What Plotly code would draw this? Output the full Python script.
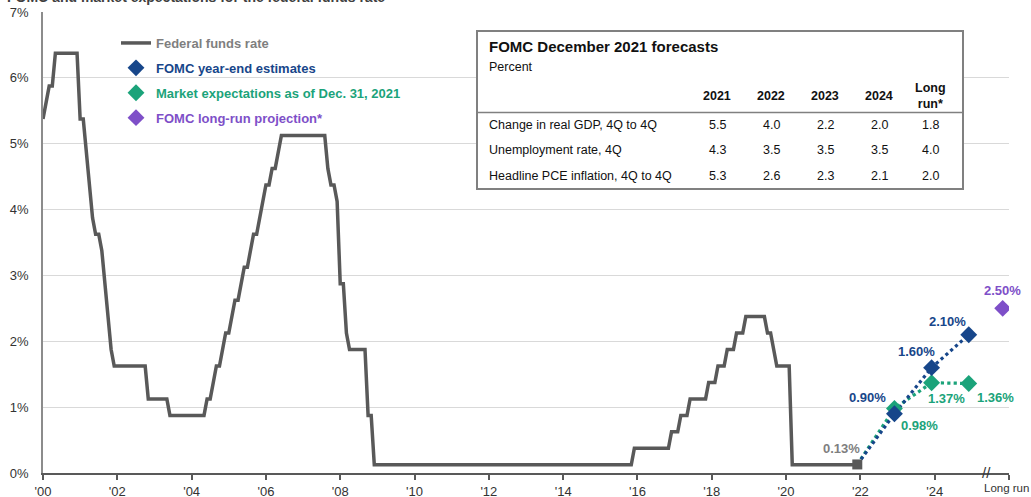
import plotly.graph_objects as go

# ---------------- data ----------------
# Federal funds rate (month-end, % ; midpoint convention) - breakpoints of the step path
fed_months = ["2000-01", "2000-02", "2000-03", "2000-04", "2000-05", "2000-12",
              "2001-01", "2001-02", "2001-03", "2001-04", "2001-05", "2001-06", "2001-07",
              "2001-08", "2001-09", "2001-10", "2001-11", "2001-12",
              "2002-10", "2002-11", "2003-05", "2003-06", "2004-05", "2004-06", "2004-07",
              "2004-08", "2004-09", "2004-10", "2004-11", "2004-12",
              "2005-01", "2005-02", "2005-03", "2005-04", "2005-05", "2005-06", "2005-07",
              "2005-08", "2005-09", "2005-10", "2005-11", "2005-12",
              "2006-01", "2006-02", "2006-03", "2006-04", "2006-05", "2006-06",
              "2007-08", "2007-09", "2007-10", "2007-11", "2007-12",
              "2008-01", "2008-02", "2008-03", "2008-04", "2008-09", "2008-10", "2008-11", "2008-12",
              "2015-11", "2015-12", "2016-11", "2016-12", "2017-02", "2017-03", "2017-05", "2017-06",
              "2017-11", "2017-12", "2018-02", "2018-03", "2018-05", "2018-06", "2018-08", "2018-09",
              "2018-11", "2018-12", "2019-06", "2019-07", "2019-08", "2019-09", "2019-10",
              "2020-02", "2020-03", "2021-12"]
fed_rates = [5.375, 5.625, 5.875, 5.875, 6.375, 6.375,
             5.375, 5.375, 4.875, 4.375, 3.875, 3.625, 3.625,
             3.375, 2.875, 2.375, 1.875, 1.625,
             1.625, 1.125, 1.125, 0.875, 0.875, 1.125, 1.125,
             1.375, 1.625, 1.625, 1.875, 2.125,
             2.125, 2.375, 2.625, 2.625, 2.875, 3.125, 3.125,
             3.375, 3.625, 3.625, 3.875, 4.125,
             4.375, 4.375, 4.625, 4.625, 4.875, 5.125,
             5.125, 4.625, 4.375, 4.375, 4.125,
             2.875, 2.875, 2.125, 1.875, 1.875, 0.875, 0.875, 0.125,
             0.125, 0.375, 0.375, 0.625, 0.625, 0.875, 0.875, 1.125,
             1.125, 1.375, 1.375, 1.625, 1.625, 1.875, 1.875, 2.125,
             2.125, 2.375, 2.375, 2.125, 2.125, 1.875, 1.625,
             1.625, 0.125, 0.125]

current_month = "2021-12"
current_rate = 0.13

forecast_months = ["2022-12", "2023-12", "2024-12"]
fomc_estimates = [0.90, 1.60, 2.10]
market_expectations = [0.98, 1.37, 1.36]
longrun_x = 2025.83
longrun_value = 2.50

x_tick_vals = [2000, 2002, 2004, 2006, 2008, 2010, 2012, 2014, 2016, 2018, 2020, 2022, 2024, 2026]
x_tick_text = ["'00", "'02", "'04", "'06", "'08", "'10", "'12", "'14", "'16", "'18", "'20", "'22", "'24", ""]
longrun_label = "Long run"
y_tick_vals = [0, 1, 2, 3, 4, 5, 6, 7]
y_tick_text = ["0%", "1%", "2%", "3%", "4%", "5%", "6%", "7%"]

table_title = "FOMC December 2021 forecasts"
table_subtitle = "Percent"
table_columns = ["2021", "2022", "2023", "2024", "Long<br>run*"]
table_rows = ["Change in real GDP, 4Q to 4Q", "Unemployment rate, 4Q", "Headline PCE inflation, 4Q to 4Q"]
table_values = [["5.5", "4.0", "2.2", "2.0", "1.8"],
                ["4.3", "3.5", "3.5", "3.5", "4.0"],
                ["5.3", "2.6", "2.3", "2.1", "2.0"]]

# ---------------- style ----------------
FONT = "Liberation Sans, Arial, sans-serif"
C_FED = "#595959"
C_BLUE = "#17468a"
C_GREEN = "#1ba37a"
C_PURPLE = "#7e4fc8"
C_GREYTXT = "#7f7f7f"


def to_dec(m):
    y, mo = m.split("-")
    return int(y) + (int(mo) - 1) / 12.0


fed_x = [to_dec(m) for m in fed_months]
cur_x = to_dec(current_month)
fc_x = [to_dec(m) for m in forecast_months]

# plot area in pixels: left 43, right 1009, top 12, bottom 473
W, H = 1031, 497
ML, MR, MT, MB = 43, 22, 12, 24
PW, PH = W - ML - MR, H - MT - MB


def px(x):
    return (x - ML) / PW


def py(y):
    return (MT + PH - y) / PH


fig = go.Figure()

# projection dotted lines
fig.add_trace(go.Scatter(x=[cur_x] + fc_x, y=[current_rate] + market_expectations, mode="lines",
                         line=dict(color=C_GREEN, width=3.2, dash="dot"), showlegend=False, hoverinfo="skip"))
fig.add_trace(go.Scatter(x=[cur_x] + fc_x, y=[current_rate] + fomc_estimates, mode="lines",
                         line=dict(color=C_BLUE, width=3.2, dash="dot"), showlegend=False, hoverinfo="skip"))

# federal funds rate
fig.add_trace(go.Scatter(x=fed_x, y=fed_rates, mode="lines", line=dict(color=C_FED, width=3.5),
                         name="<span style='color:#7f7f7f'><b>Federal funds rate</b></span>",
                         legendgroup="a", legendrank=1))
fig.add_trace(go.Scatter(x=[cur_x], y=[current_rate], mode="markers",
                         marker=dict(symbol="square", size=10, color=C_FED), showlegend=False))

fig.add_trace(go.Scatter(x=fc_x, y=market_expectations, mode="markers",
                         marker=dict(symbol="diamond", size=13, color=C_GREEN),
                         name="<span style='color:%s'><b>Market expectations as of Dec. 31, 2021</b></span>" % C_GREEN,
                         legendgroup="c", legendrank=3))
fig.add_trace(go.Scatter(x=fc_x, y=fomc_estimates, mode="markers",
                         marker=dict(symbol="diamond", size=13, color=C_BLUE),
                         name="<span style='color:%s'><b>FOMC year-end estimates</b></span>" % C_BLUE,
                         legendgroup="b", legendrank=2))
fig.add_trace(go.Scatter(x=[longrun_x], y=[longrun_value], mode="markers",
                         marker=dict(symbol="diamond", size=13, color=C_PURPLE),
                         name="<span style='color:%s'><b>FOMC long-run projection*</b></span>" % C_PURPLE,
                         legendgroup="d", legendrank=4))

annotations = []

# data labels (offsets in pixels)
lab_blue_off = [(-27, 16), (-15, 16), (-21, 13)]
lab_green_off = [(25, -17), (15, -16), (27, -14)]
for xv, v, (dx, dy) in zip(fc_x, fomc_estimates, lab_blue_off):
    annotations.append(dict(x=xv, y=v, text="<b>%.2f%%</b>" % v, showarrow=False, xshift=dx, yshift=dy,
                            font=dict(size=13, color=C_BLUE, family=FONT)))
for xv, v, (dx, dy) in zip(fc_x, market_expectations, lab_green_off):
    annotations.append(dict(x=xv, y=v, text="<b>%.2f%%</b>" % v, showarrow=False, xshift=dx, yshift=dy,
                            font=dict(size=13, color=C_GREEN, family=FONT)))
annotations.append(dict(x=longrun_x, y=longrun_value, text="<b>%.2f%%</b>" % longrun_value, showarrow=False,
                        xshift=0, yshift=18, font=dict(size=13, color=C_PURPLE, family=FONT)))
annotations.append(dict(x=cur_x, y=current_rate, text="<b>%.2f%%</b>" % current_rate, showarrow=False,
                        xshift=-16, yshift=16, font=dict(size=13, color=C_GREYTXT, family=FONT)))

# axis break mark
annotations.append(dict(x=2025.4, y=0, text="//", showarrow=False, font=dict(size=15, color="#333333", family=FONT),
                        yshift=1))
# long-run axis label
annotations.append(dict(x=2026, xref="x", yref="paper", y=0, yanchor="top", yshift=-7, xshift=-3,
                        text=longrun_label, showarrow=False, font=dict(size=11.5, color="#333333", family=FONT)))

# cut-off header text at very top
annotations.append(dict(xref="paper", yref="paper", x=px(5), y=1, xanchor="left", yanchor="middle", yshift=15,
                        text="<b>FOMC and market expectations for the federal funds rate</b>", showarrow=False,
                        font=dict(size=14, color="#404040", family=FONT)))

# table text
annotations.append(dict(xref="paper", yref="paper", x=px(487), y=py(46), xanchor="left", yanchor="middle",
                        text="<b>%s</b>" % table_title, showarrow=False,
                        font=dict(size=15, color="#111111", family=FONT)))
annotations.append(dict(xref="paper", yref="paper", x=px(487), y=py(67), xanchor="left", yanchor="middle",
                        text=table_subtitle, showarrow=False, font=dict(size=12.5, color="#111111", family=FONT)))
col_px = [717, 771, 825, 879, 930]
for cx, ctext in zip(col_px, table_columns):
    annotations.append(dict(xref="paper", yref="paper", x=px(cx), y=py(96), xanchor="center", yanchor="middle",
                            text="<b>%s</b>" % ctext, showarrow=False, align="center",
                            font=dict(size=12.5, color="#111111", family=FONT)))
row_py = [125, 150, 175.5]
for ry, rlabel, rvals in zip(row_py, table_rows, table_values):
    annotations.append(dict(xref="paper", yref="paper", x=px(487), y=py(ry), xanchor="left", yanchor="middle",
                            text=rlabel, showarrow=False, font=dict(size=12.5, color="#111111", family=FONT)))
    for cx, val in zip(col_px, rvals):
        annotations.append(dict(xref="paper", yref="paper", x=px(cx), y=py(ry), xanchor="center",
                                yanchor="middle", text=val, showarrow=False,
                                font=dict(size=12.5, color="#111111", family=FONT)))

shapes = [
    dict(type="rect", xref="paper", yref="paper", x0=px(477), x1=px(963), y0=py(189), y1=py(31),
         line=dict(color="#808080", width=2), fillcolor="white", layer="above"),
    dict(type="line", xref="paper", yref="paper", x0=px(477), x1=px(963), y0=py(112.5), y1=py(112.5),
         line=dict(color="#808080", width=1.5), layer="above"),
]

fig.update_layout(
    width=W, height=H,
    autosize=False,
    margin=dict(l=ML, r=MR, t=MT, b=MB, pad=0, autoexpand=False),
    paper_bgcolor="white", plot_bgcolor="white",
    font=dict(family=FONT, size=13, color="#333333"),
    showlegend=True,
    legend=dict(x=px(116), y=py(28), xanchor="left", yanchor="top", bgcolor="rgba(0,0,0,0)",
                font=dict(size=13, family=FONT), traceorder="grouped", tracegroupgap=5,
                itemsizing="trace"),
    xaxis=dict(range=[2000, 2026], tickvals=x_tick_vals, ticktext=x_tick_text, showgrid=False,
               showline=True, linecolor="#595959", linewidth=2, ticks="outside", ticklen=5,
               tickcolor="#595959", tickwidth=1.5, zeroline=False, tickfont=dict(size=13, color="#333333"),
               automargin=False, fixedrange=True, ticklabeloverflow="allow"),
    yaxis=dict(range=[0, 7], tickvals=y_tick_vals, ticktext=y_tick_text, showgrid=True, gridcolor="#d9d9d9",
               gridwidth=1, showline=True, linecolor="#8c8c8c", linewidth=1.5, zeroline=False,
               tickfont=dict(size=13, color="#333333"), ticks="", ticklabelstandoff=10,
               automargin=False, fixedrange=True, ticklabeloverflow="allow"),
    annotations=annotations,
    shapes=shapes,
)

fig.write_html("out.html", config={"displayModeBar": False},
               post_script="document.body.style.margin='0';document.body.style.overflow='hidden';")
